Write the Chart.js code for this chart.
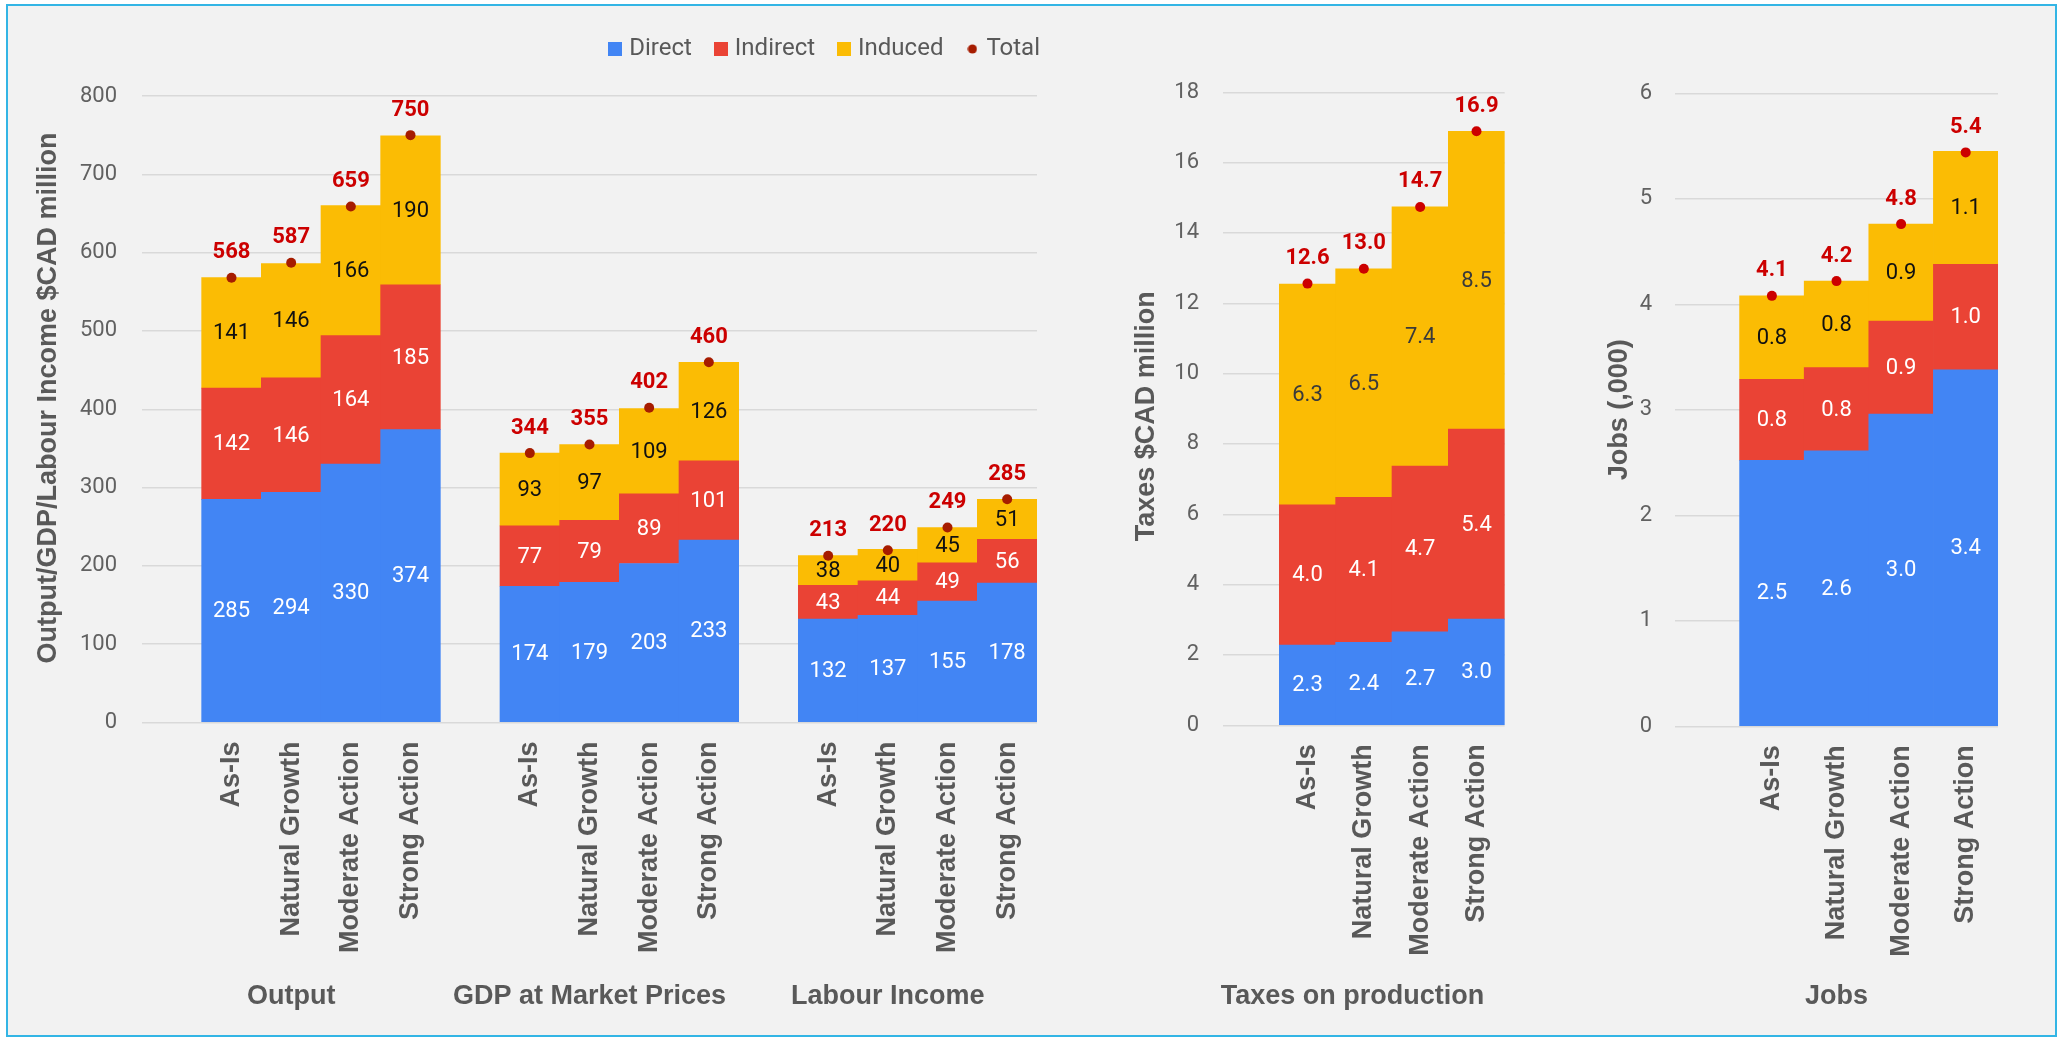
<!DOCTYPE html>
<html><head><meta charset="utf-8">
<script src="https://cdn.jsdelivr.net/npm/chart.js@4.4.1/dist/chart.umd.min.js"></script>
<style>
html,body{margin:0;padding:0;background:#ffffff;width:2063px;height:1040px;overflow:hidden}
#frame{position:absolute;left:6px;top:4px;width:2047px;height:1029px;border:2px solid #33b5e5;background:#f2f2f2}
canvas{position:absolute;top:0}
</style></head><body>
<div id="frame"></div>
<canvas id="cMain" style="left:0px;width:1067px;height:1040px" width="1067" height="1040"></canvas>
<canvas id="cTax" style="left:1090px;width:440px;height:1040px" width="440" height="1040"></canvas>
<canvas id="cJobs" style="left:1560px;width:470px;height:1040px" width="470" height="1040"></canvas>
<script>
// ---------- data ----------
const scenarios = ['As-Is', 'Natural Growth', 'Moderate Action', 'Strong Action'];
const seriesNames = ['Direct', 'Indirect', 'Induced', 'Total'];
const mainGroups = ['Output', 'GDP at Market Prices', 'Labour Income'];

const outputDirect   = [285, 294, 330, 374];
const outputIndirect = [142, 146, 164, 185];
const outputInduced  = [141, 146, 166, 190];
const outputTotal    = [568, 587, 659, 750];

const gdpDirect   = [174, 179, 203, 233];
const gdpIndirect = [77, 79, 89, 101];
const gdpInduced  = [93, 97, 109, 126];
const gdpTotal    = [344, 355, 402, 460];

const labourDirect   = [132, 137, 155, 178];
const labourIndirect = [43, 44, 49, 56];
const labourInduced  = [38, 40, 45, 51];
const labourTotal    = [213, 220, 249, 285];

const taxDirect   = [2.28, 2.36, 2.66, 3.02];
const taxIndirect = [3.99, 4.12, 4.71, 5.40];
const taxInduced  = [6.28, 6.50, 7.37, 8.47];
const taxTotal    = [12.56, 12.98, 14.74, 16.89];

const jobsDirect   = [2.52, 2.61, 2.96, 3.38];
const jobsIndirect = [0.77, 0.79, 0.88, 1.00];
const jobsInduced  = [0.79, 0.82, 0.92, 1.07];
const jobsTotal    = [4.08, 4.22, 4.76, 5.44];

const mainTicks = [0, 100, 200, 300, 400, 500, 600, 700, 800];
const taxTicks  = [0, 2, 4, 6, 8, 10, 12, 14, 16, 18];
const jobsTicks = [0, 1, 2, 3, 4, 5, 6];

// ---------- styles ----------
const COLORS = ['#4285f4', '#ea4335', '#fbbc04'];
const BOLD_FONT = '"Liberation Sans", Arial, sans-serif';
const NB = '\u00a0';
Chart.defaults.font.family = 'Roboto, "Liberation Sans", Arial, sans-serif';

function padGroup(arr) { return [null].concat(arr); }
function catLabels(n) { let l = []; for (let i = 0; i < n; i++) l = l.concat([''], scenarios); return l; }

function squareImg(color) { const c = document.createElement('canvas'); c.width = 14; c.height = 14; const g = c.getContext('2d'); g.fillStyle = color; g.fillRect(0, 0, 14, 14); return c; }
function dotImg(color) { const c = document.createElement('canvas'); c.width = 10; c.height = 10; const g = c.getContext('2d'); g.fillStyle = color; g.beginPath(); g.arc(5, 5, 4.6, 0, Math.PI * 2); g.fill(); return c; }

const valueLabels = {
  id: 'valueLabels',
  afterDatasetsDraw(chart, args, opts) {
    const ctx = chart.ctx;
    ctx.save();
    ctx.textAlign = 'center';
    ctx.textBaseline = 'middle';
    chart.data.datasets.forEach((ds, di) => {
      const meta = chart.getDatasetMeta(di);
      meta.data.forEach((el, i) => {
        const v = ds.data[i];
        if (v === null || v === undefined) return;
        const txt = opts.decimals ? v.toFixed(opts.decimals) : String(Math.round(v));
        if (ds.type === 'line') {
          ctx.font = 'bold 22px Roboto, Arial, sans-serif';
          ctx.fillStyle = '#cc0000';
          ctx.fillText(txt, el.x, el.y - 25);
        } else {
          ctx.font = '22px Roboto, Arial, sans-serif';
          ctx.fillStyle = opts.colors[di];
          ctx.fillText(txt, el.x, (el.y + el.base) / 2 + 1);
        }
      });
    });
    ctx.restore();
  }
};

const groupLabels = {
  id: 'groupLabels',
  afterDraw(chart, args, opts) {
    if (!opts.items) return;
    const ctx = chart.ctx, xs = chart.scales.x;
    ctx.save();
    ctx.font = 'bold 27px ' + BOLD_FONT;
    ctx.fillStyle = '#595959';
    ctx.textAlign = 'center';
    ctx.textBaseline = 'middle';
    opts.items.forEach(it => ctx.fillText(it.text, xs.getPixelForValue(it.at), opts.y));
    ctx.restore();
  }
};

function makeDatasets(direct, indirect, induced, total, dotColor) {
  return [
    { type: 'bar', label: seriesNames[0], data: direct, backgroundColor: COLORS[0], stack: 's', barPercentage: 1, categoryPercentage: 1 },
    { type: 'bar', label: seriesNames[1], data: indirect, backgroundColor: COLORS[1], stack: 's', barPercentage: 1, categoryPercentage: 1 },
    { type: 'bar', label: seriesNames[2], data: induced, backgroundColor: COLORS[2], stack: 's', barPercentage: 1, categoryPercentage: 1 },
    { type: 'line', label: seriesNames[3], data: total, showLine: false, stack: 't', order: -1,
      pointRadius: 5, pointBackgroundColor: dotColor, pointBorderWidth: 0, borderColor: dotColor, backgroundColor: dotColor }
  ];
}

function makeOptions(cfg) {
  return {
    responsive: false,
    animation: false,
    events: [],
    devicePixelRatio: 1,
    layout: { padding: cfg.padding },
    plugins: {
      tooltip: { enabled: false },
      legend: cfg.legend || { display: false },
      title: cfg.spacer || { display: false },
      valueLabels: { decimals: cfg.decimals, colors: cfg.labelColors },
      groupLabels: { items: cfg.groups, y: 997 }
    },
    scales: Object.assign({
      x: {
        type: 'category', stacked: true, offset: true,
        grid: { display: false, drawTicks: false }, border: { display: false },
        ticks: { autoSkip: false, minRotation: 90, maxRotation: 90, padding: 19, color: '#595959',
                 font: { family: BOLD_FONT, size: 27, weight: 'bold' } },
        afterFit(s) { s.height = cfg.xHeight; }
      },
      y: {
        stacked: true, min: cfg.ticks[0], max: cfg.ticks[cfg.ticks.length - 1],
        grid: { color: '#d9d9d9', lineWidth: 1.5, drawTicks: false },
        border: { display: false },
        ticks: { stepSize: cfg.ticks[1] - cfg.ticks[0], padding: cfg.tickPad, color: '#616161', font: { size: 22 } },
        title: { display: true, text: cfg.yTitle, color: '#595959',
                 font: { family: BOLD_FONT, size: 27, weight: 'bold', lineHeight: 1.2 },
                 padding: { top: cfg.titlePad, bottom: 0 } },
        afterFit(s) { s.width = cfg.yWidth; }
      }
    }, cfg.extraScales || {})
  };
}

// ---------- main chart ----------
const legendIcons = [squareImg(COLORS[0]), squareImg(COLORS[1]), squareImg(COLORS[2]), dotImg('#a61c00')];

new Chart(document.getElementById('cMain'), {
  data: {
    labels: catLabels(3),
    datasets: makeDatasets(
      padGroup(outputDirect).concat(padGroup(gdpDirect), padGroup(labourDirect)),
      padGroup(outputIndirect).concat(padGroup(gdpIndirect), padGroup(labourIndirect)),
      padGroup(outputInduced).concat(padGroup(gdpInduced), padGroup(labourInduced)),
      padGroup(outputTotal).concat(padGroup(gdpTotal), padGroup(labourTotal)),
      '#a61c00')
  },
  options: makeOptions({
    padding: { top: 10, left: 0, right: 0, bottom: 0 },
    legend: {
      display: true, position: 'top', align: 'end',
      labels: {
        usePointStyle: true, boxWidth: 4, boxHeight: 14, padding: 27, color: '#595959',
        font: { size: 24 },
        generateLabels(chart) {
          const items = Chart.defaults.plugins.legend.labels.generateLabels(chart);
          items.sort((a, b) => a.datasetIndex - b.datasetIndex);
          items.forEach(it => { it.pointStyle = legendIcons[it.datasetIndex]; });
          return items;
        }
      }
    },
    spacer: { display: true, text: '', weight: 500, padding: { top: 0, bottom: 13 }, font: { size: 10, lineHeight: 1.2 } },
    decimals: 0,
    labelColors: ['#ffffff', '#ffffff', '#111111'],
    groups: [{ text: mainGroups[0], at: 2 }, { text: mainGroups[1], at: 7 }, { text: mainGroups[2], at: 12 }],
    xHeight: 317.5,
    ticks: mainTicks, tickPad: 25,
    yTitle: NB + NB + NB + 'Output/GDP/Labour Income $CAD million', titlePad: 32.8, yWidth: 142,
    extraScales: {
      yR: { position: 'right', display: true, grid: { display: false }, border: { display: false },
            ticks: { display: false }, afterFit(s) { s.width = 30; } }
    }
  }),
  plugins: [valueLabels, groupLabels]
});

// ---------- taxes chart ----------
new Chart(document.getElementById('cTax'), {
  data: {
    labels: catLabels(1),
    datasets: makeDatasets(padGroup(taxDirect), padGroup(taxIndirect), padGroup(taxInduced), padGroup(taxTotal), '#cc0000')
  },
  options: makeOptions({
    padding: { top: 92.3, left: 0, right: 21, bottom: 0 },
    decimals: 1,
    labelColors: ['#ffffff', '#ffffff', '#3a3a3a'],
    groups: [{ text: 'Taxes on production', at: 1.8 }],
    xHeight: 314.7,
    ticks: taxTicks, tickPad: 24,
    yTitle: 'Taxes $CAD million' + NB + NB, titlePad: 40.8, yWidth: 133
  }),
  plugins: [valueLabels, groupLabels]
});

// ---------- jobs chart ----------
new Chart(document.getElementById('cJobs'), {
  data: {
    labels: catLabels(1),
    datasets: makeDatasets(padGroup(jobsDirect), padGroup(jobsIndirect), padGroup(jobsInduced), padGroup(jobsTotal), '#cc0000')
  },
  options: makeOptions({
    padding: { top: 93.3, left: 0, right: 32, bottom: 0 },
    decimals: 1,
    labelColors: ['#ffffff', '#ffffff', '#111111'],
    groups: [{ text: 'Jobs', at: 2 }],
    xHeight: 313.7,
    ticks: jobsTicks, tickPad: 23,
    yTitle: 'Jobs (,000)', titlePad: 43.8, yWidth: 115
  }),
  plugins: [valueLabels, groupLabels]
});
</script>
</body></html>
